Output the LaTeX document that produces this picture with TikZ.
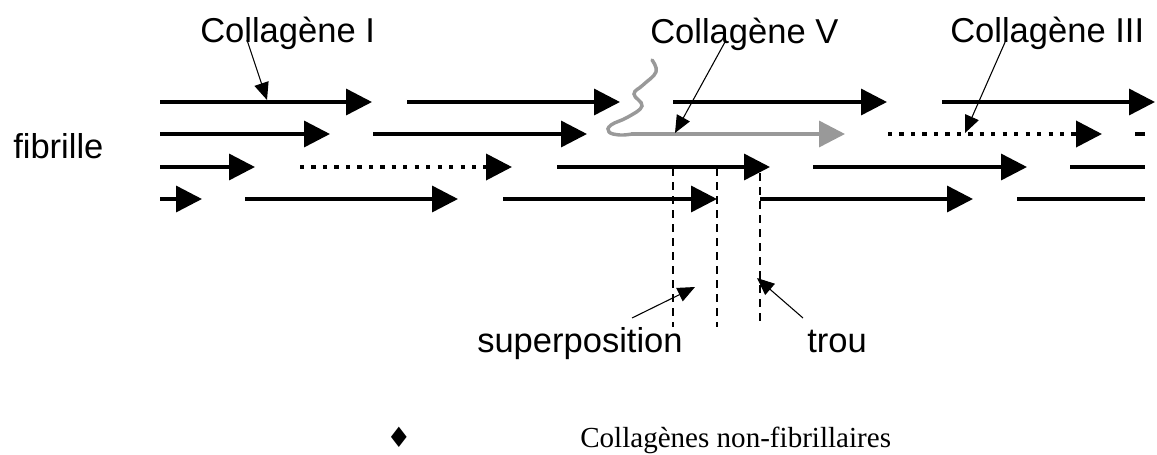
\documentclass[tikz,border=0pt]{standalone}
\usepackage{fontspec}
\setmainfont{Liberation Sans}
\newfontfamily\serifbottom{Liberation Serif}
\newfontfamily\symfont{DejaVu Sans}
\usetikzlibrary{arrows.meta}
\definecolor{greyfib}{HTML}{999999}
\tikzset{
  fib/.style={line width=2.6pt,-{Triangle[length=19.5pt,width=19.5pt]}},
  fibline/.style={line width=2.6pt},
  fibdot/.style={line width=2.8pt,dash pattern=on 3.2pt off 5.4pt,-{Triangle[length=19.5pt,width=19.5pt]}},
  fibgrey/.style={line width=2.6pt,draw=greyfib,-{Triangle[length=19.5pt,width=19.5pt,fill=greyfib]}},
  pointer/.style={line width=0.8pt,-{Triangle[length=13pt,width=11pt]}},
  guide/.style={line width=0.8pt,dash pattern=on 6pt off 4.5pt},
  lbl/.style={inner sep=0pt,anchor=base west,font=\fontsize{25.9}{30}\selectfont},
}
\begin{document}
\begin{tikzpicture}[x=0.75pt,y=-0.75pt]
\useasboundingbox (0,0) rectangle (1157,454);
% labels
\node[lbl] (c1) at (200,42) {Collagène I};
\node[lbl] (c5) at (650,43) {Collagène V};
\node[lbl] (c3) at (950,42) {Collagène III};
\node[lbl] (fib) at (13,158) {fibrille};
\node[lbl] (sup) at (477,352) {superposition};
\node[lbl] (trou) at (807,352) {trou};
\node[inner sep=0pt,font=\symfont\fontsize{21}{24}\selectfont] (dia) at (399,437) {♦};
\node[inner sep=0pt,anchor=base west,font=\serifbottom\fontsize{21.8}{26}\selectfont] (ncf) at (580,447) {Collagènes non-fibrillaires};
% row 1
\draw[fib] (160,102) -- (372,102);
\draw[fib] (407,102) -- (620,102);
\draw[fib] (673,102) -- (887,102);
\draw[fib] (942,102) -- (1155,102);
% row 2
\draw[fib] (160,134) -- (330,134);
\draw[fib] (373,134) -- (587,134);
\draw[fibdot] (888,134) -- (1102,134);
\draw[fibline] (1135,134) -- (1145,134);
% row 3
\draw[fib] (160,167) -- (255,167);
\draw[fibdot] (300,167) -- (512,167);
\draw[fib] (557,167) -- (770,167);
\draw[fib] (813,167) -- (1027,167);
\draw[fibline] (1070,167) -- (1145,167);
% row 4
\draw[fib] (160,199) -- (202,199);
\draw[fib] (245,199) -- (458,199);
\draw[fib] (503,199) -- (717,199);
\draw[fib] (760,199) -- (973,199);
\draw[fibline] (1017,199) -- (1145,199);
% collagen V (grey)
\draw[line width=2.6pt,greyfib,line cap=round] plot[smooth,tension=0.7] coordinates {(652,60) (656,72) (643,85) (634,94) (642,106) (628,117) (611,125) (609,132) (620,135) (632,134)};
\draw[fibgrey] (631,134) -- (845,134);
% dashed guides
\draw[guide] (673,168) -- (673,327);
\draw[guide] (717,168) -- (717,327);
\draw[guide] (760,173) -- (760,327);
% pointers
\coordinate (p1) at (267,100);
\coordinate (p5) at (675,133);
\coordinate (p3) at (965,133);
\coordinate (ps) at (695,287);
\coordinate (pt) at (757,278);
\draw[pointer] (247,40) -- (p1);
\draw[pointer] (725,42) -- (p5);
\draw[pointer] (1006,40) -- (p3);
\draw[pointer] (632,318) -- (ps);
\draw[pointer] (803,318) -- (pt);
\end{tikzpicture}
\end{document}
